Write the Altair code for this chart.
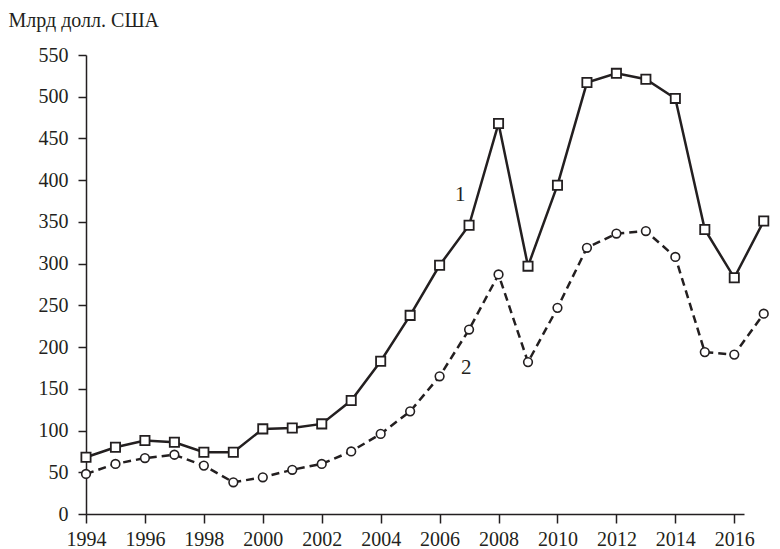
import altair as alt
import pandas as pd

years = list(range(1994, 2018))
series1 = [68, 80, 88, 86, 74, 74, 102, 103, 108, 136, 183, 238, 298, 346, 468,
           297, 394, 517, 528, 521, 498, 341, 283, 351]
series2 = [48, 60, 67, 71, 58, 38, 44, 53, 60, 75, 96, 123, 165, 221, 287,
           182, 247, 319, 336, 339, 308, 194, 191, 240]
y_ticks = list(range(0, 551, 50))
x_ticks = list(range(1994, 2017, 2))
labels_text = ["1", "2"]
labels_x = [2006.7, 2006.9]
labels_y = [382, 175]

df1 = pd.DataFrame({"year": years, "value": series1})
df2 = pd.DataFrame({"year": years, "value": series2})
dfl = pd.DataFrame({"year": labels_x, "value": labels_y, "t": labels_text})

FONT = "Liberation Serif"
INK = "#231f20"
FS = 20

x = alt.X("year:Q",
          scale=alt.Scale(domain=[1994, 2016.33], nice=False, zero=False),
          axis=alt.Axis(values=x_ticks, format="d", title=None, grid=False,
                        tickSize=9, labelPadding=6, labelFlush=False,
                        labelFont=FONT, labelFontSize=FS))
y = alt.Y("value:Q",
          scale=alt.Scale(domain=[0, 550], nice=False),
          axis=alt.Axis(values=y_ticks, title="Млрд долл. США", grid=False,
                        tickSize=8, labelPadding=10,
                        labelFont=FONT, labelFontSize=FS,
                        titleFont=FONT, titleFontSize=FS,
                        titleAngle=0, titleX=-78, titleY=-29,
                        titleAlign="left", titleBaseline="alphabetic"))

line1 = alt.Chart(df1).mark_line(color=INK, strokeWidth=2.5).encode(x=x, y=y)
pts1 = alt.Chart(df1).mark_point(shape="square", size=85, filled=True,
                                 fill="white", stroke=INK, strokeWidth=1.8,
                                 opacity=1).encode(x=x, y=y)
line2 = alt.Chart(df2).mark_line(color=INK, strokeWidth=2.5,
                                 strokeDash=[8, 5]).encode(x=x, y=y)
pts2 = alt.Chart(df2).mark_point(shape="circle", size=75, filled=True,
                                 fill="white", stroke=INK, strokeWidth=1.6,
                                 opacity=1).encode(x=x, y=y)
txt = alt.Chart(dfl).mark_text(font=FONT, fontSize=21, color=INK,
                               align="center", baseline="middle").encode(
    x=x, y=y, text="t:N")

chart = alt.layer(line1, line2, pts1, pts2, txt).properties(
    width=658, height=459,
    autosize=alt.AutoSizeParams(type="none"),
    padding={"left": 78, "top": 47, "right": 28, "bottom": 35},
).configure_view(stroke=None).configure_axis(
    labelFont=FONT, titleFont=FONT, labelFontSize=FS, titleFontSize=FS,
    labelColor=INK, titleColor=INK, titleFontWeight="normal",
    domainColor=INK, tickColor=INK, domainWidth=1.5, tickWidth=1.5,
)

chart.save("out.html", embed_options={"renderer": "svg", "actions": False})
